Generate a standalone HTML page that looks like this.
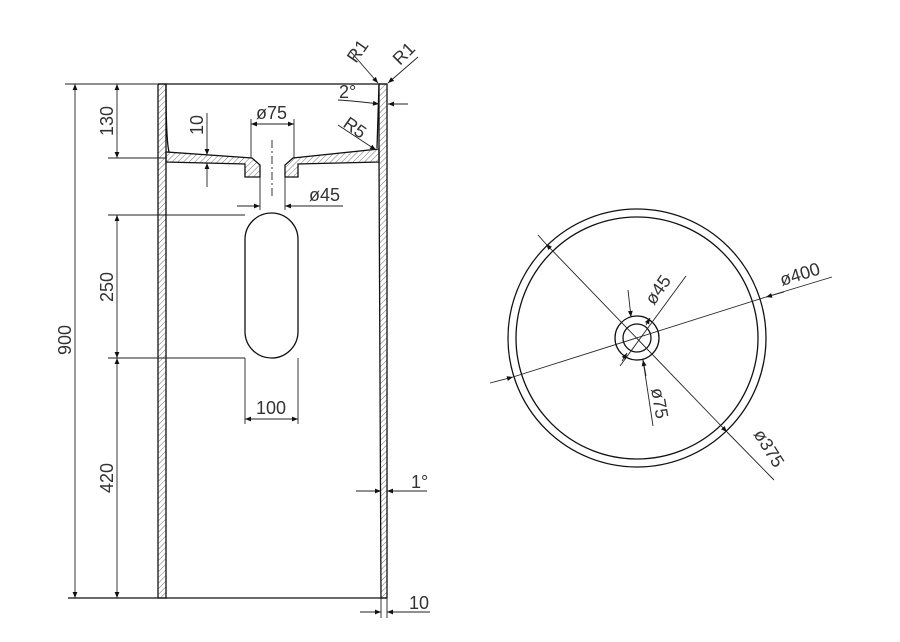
<!DOCTYPE html>
<html><head><meta charset="utf-8"><style>
html,body{margin:0;padding:0;background:#fff;}
svg{display:block}
text{font-family:"Liberation Sans",sans-serif;font-size:18px;fill:#333}
</style></head><body>
<svg width="900" height="642" viewBox="0 0 900 642" xmlns="http://www.w3.org/2000/svg">
<defs>
<pattern id="h" patternUnits="userSpaceOnUse" width="4" height="4" patternTransform="rotate(45)">
<line x1="0" y1="0" x2="0" y2="4" stroke="#333" stroke-width="0.7"/>
</pattern>
<marker id="a" viewBox="0 0 10 10" refX="10" refY="5" markerWidth="8" markerHeight="6" orient="auto-start-reverse" markerUnits="userSpaceOnUse">
<path d="M0,1 L10,5 L0,9z" fill="#111"/>
</marker>
</defs>
<g stroke="#111" stroke-width="1.3" fill="url(#h)">
<path d="M158,84 L166,84 L166,598 L158,598 Z"/>
<path d="M379,84 L387,84 L387,598 L381,598 L379,160 Z"/>
<path d="M166,152 L166,162 L245,164 L245,177 L260,177 L260,165 L252,158 Z"/>
<path d="M379,149 L379,162 L298,164 L298,177 L285,177 L285,165 L293,158 Z"/>
</g>
<g stroke="#111" stroke-width="1.3" fill="none">
<line x1="158" y1="84" x2="387" y2="84"/>
<line x1="68" y1="598" x2="387" y2="598"/>
<path d="M166,84 Q166,140 169,152"/>
<path d="M379,84 L377,148"/>
<rect x="245" y="213" width="53" height="145" rx="26.5"/>
<circle cx="637" cy="338" r="129"/>
<circle cx="637" cy="338" r="121"/>
<circle cx="637" cy="338" r="22"/>
<circle cx="637" cy="338" r="14"/>
</g>
<g stroke="#222" stroke-width="0.9" fill="none">
<line x1="272" y1="140" x2="272" y2="196" stroke-dasharray="8,3,2,3"/>
<line x1="65" y1="84" x2="157" y2="84"/>
<line x1="108" y1="158" x2="166" y2="158"/>
<line x1="108" y1="215" x2="245" y2="215"/>
<line x1="108" y1="358" x2="245" y2="358"/>
<line x1="75" y1="84" x2="75" y2="598" marker-start="url(#a)" marker-end="url(#a)"/>
<line x1="117" y1="84" x2="117" y2="158" marker-start="url(#a)" marker-end="url(#a)"/>
<line x1="117" y1="215" x2="117" y2="358" marker-start="url(#a)" marker-end="url(#a)"/>
<line x1="117" y1="358" x2="117" y2="598" marker-start="url(#a)" marker-end="url(#a)"/>
<line x1="207" y1="113" x2="207" y2="155" marker-end="url(#a)"/>
<line x1="207" y1="187" x2="207" y2="163" marker-end="url(#a)"/>
<line x1="251" y1="119" x2="251" y2="158"/>
<line x1="294" y1="119" x2="294" y2="158"/>
<line x1="251" y1="124" x2="294" y2="124" marker-start="url(#a)" marker-end="url(#a)"/>
<line x1="260" y1="177" x2="260" y2="210"/>
<line x1="285" y1="177" x2="285" y2="210"/>
<line x1="237" y1="206" x2="260" y2="206" marker-end="url(#a)"/>
<line x1="343" y1="206" x2="285" y2="206" marker-end="url(#a)"/>
<line x1="245" y1="358" x2="245" y2="424"/>
<line x1="298" y1="358" x2="298" y2="424"/>
<line x1="245" y1="419" x2="298" y2="419" marker-start="url(#a)" marker-end="url(#a)"/>
<line x1="351" y1="52" x2="378" y2="83" marker-end="url(#a)"/>
<line x1="418" y1="57" x2="388" y2="83" marker-end="url(#a)"/>
<path d="M338,100 Q355,101 379,104" marker-end="url(#a)"/>
<line x1="408" y1="104" x2="388" y2="104" marker-end="url(#a)"/>
<line x1="338" y1="125" x2="376" y2="150" marker-end="url(#a)"/>
<line x1="356" y1="491" x2="381" y2="491" marker-end="url(#a)"/>
<line x1="427" y1="491" x2="387" y2="491" marker-end="url(#a)"/>
<line x1="381" y1="598" x2="381" y2="618"/>
<line x1="387" y1="598" x2="387" y2="618"/>
<line x1="360" y1="612" x2="381" y2="612" marker-end="url(#a)"/>
<line x1="430" y1="612" x2="387" y2="612" marker-end="url(#a)"/>
<line x1="538" y1="235" x2="546" y2="244" />
<line x1="546" y1="244" x2="727" y2="432" marker-start="url(#a)" marker-end="url(#a)"/>
<line x1="727" y1="432" x2="774" y2="480"/>
<line x1="490" y1="383" x2="513" y2="377" marker-end="url(#a)"/>
<line x1="513" y1="377" x2="766" y2="297"/>
<line x1="766" y1="297" x2="832" y2="277"/>
<line x1="784" y1="292" x2="766" y2="297" marker-end="url(#a)"/>
<line x1="620" y1="366" x2="686" y2="276"/>
<line x1="646" y1="325" x2="650" y2="318" marker-end="url(#a)"/>
<line x1="622" y1="361" x2="627" y2="353" marker-end="url(#a)"/>
<line x1="628" y1="290" x2="631" y2="317" marker-end="url(#a)"/>
<line x1="653" y1="426" x2="643" y2="360"/>
<line x1="646" y1="376" x2="643" y2="360" marker-end="url(#a)"/>
</g>
<g>
<text transform="translate(71,340) rotate(-90)" text-anchor="middle">900</text>
<text transform="translate(113,121) rotate(-90)" text-anchor="middle">130</text>
<text transform="translate(113,287) rotate(-90)" text-anchor="middle">250</text>
<text transform="translate(113,478) rotate(-90)" text-anchor="middle">420</text>
<text transform="translate(203,125) rotate(-90)" text-anchor="middle">10</text>
<text x="256" y="119">ø75</text>
<text x="309" y="201">ø45</text>
<text x="256" y="414">100</text>
<text transform="translate(356,64) rotate(-55)">R1</text>
<text transform="translate(400,66) rotate(-45)">R1</text>
<text x="339" y="98">2°</text>
<text transform="translate(342,126) rotate(35)">R5</text>
<text x="411" y="488">1°</text>
<text x="409" y="609">10</text>
<text x="782" y="286" transform="rotate(-17 782 286)">ø400</text>
<text transform="translate(654,306) rotate(-55)">ø45</text>
<text transform="translate(651,389) rotate(80)">ø75</text>
<text transform="translate(753,434) rotate(58)">ø375</text>
</g>
</svg>
</body></html>
